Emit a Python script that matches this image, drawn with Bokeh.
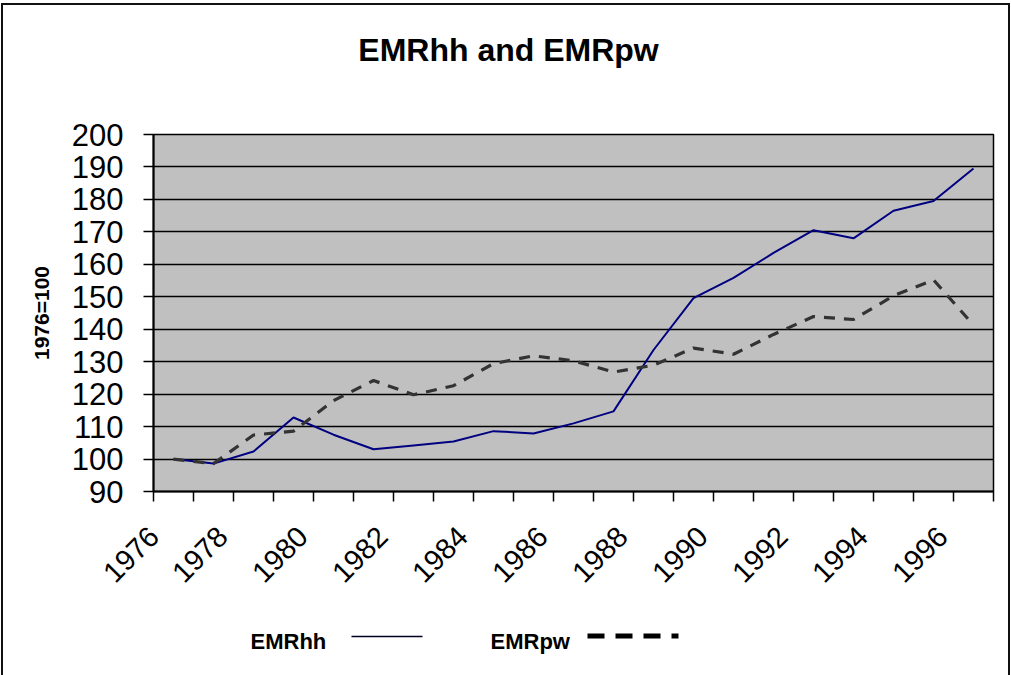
from bokeh.plotting import figure
from bokeh.layouts import column
from bokeh.models import Range1d, FixedTicker, InlineStyleSheet
from bokeh.core.properties import value
from bokeh.embed import file_html
from bokeh.resources import INLINE

years = list(range(1976, 1997))
emrhh = [100, 98.6, 102.3, 112.8, 107.5, 103.0, 104.2, 105.4, 108.6, 107.9, 111.0,
         114.7, 133.6, 149.6, 155.8, 163.5, 170.5, 168.0, 176.5, 179.5, 189.5]
emrpw = [100, 98.6, 107.4, 108.6, 118.0, 124.2, 119.8, 122.6, 129.4, 131.8, 130.3,
         126.8, 128.9, 134.2, 132.3, 138.4, 143.9, 143.0, 150.3, 155.2, 141.3]
y_ticks = list(range(90, 201, 10))
x_label_years = years[::2]
series_names = ["EMRhh", "EMRpw"]
chart_title = "EMRhh and EMRpw"

FONT = "Liberation Sans"
W = 1011
TOP_H, MAIN_H, LEG_H = 110, 490, 75


def border_css(top, height):
    return InlineStyleSheet(css=f"""
:host {{ position: relative; overflow: hidden; }}
:host::after {{ content: ""; position: absolute; left: 1px; top: {top}px; width: 1009px; height: {height}px;
  border: 2px solid #111; box-sizing: border-box; pointer-events: none; z-index: 100; }}
""")


def strip(height, y0):
    f = figure(width=W, height=height, output_backend="svg", toolbar_location=None,
               x_range=Range1d(0, W), y_range=Range1d(y0 + height, y0),
               x_axis_location=None, y_axis_location=None,
               min_border_left=0, min_border_right=0, min_border_top=0, min_border_bottom=0)
    f.frame_align = False
    f.grid.visible = False
    f.outline_line_color = None
    f.background_fill_color = "white"
    f.border_fill_color = "white"
    return f


# ---------------- title strip ----------------
top = strip(TOP_H, 0)
top.stylesheets = [border_css(3, 800)]
top.text(x=[508], y=[49], text=[chart_title], text_font=value(FONT), text_font_style="bold",
         text_font_size="32px", text_align="center", text_baseline="middle", text_color="black")

# ---------------- main chart ----------------
p = figure(width=W, height=MAIN_H, output_backend="svg", toolbar_location=None,
           x_range=Range1d(1975.5, 1996.5), y_range=Range1d(90, 200),
           min_border_left=153, min_border_right=18, min_border_top=24, min_border_bottom=109)
p.frame_align = False
p.background_fill_color = "#C0C0C0"
p.border_fill_color = "white"
p.outline_line_color = "black"
p.outline_line_width = 1.5
p.stylesheets = [border_css(-20, 800)]

# category axis: boundaries as (minor) tick marks, labels every second year
label_pos = [max(y - 0.77, 1975.51) for y in x_label_years]
p.xaxis.ticker = FixedTicker(ticks=label_pos, minor_ticks=[y - 0.5 for y in years] + [years[-1] + 0.5])
p.xaxis.major_label_overrides = {pos: str(y) for pos, y in zip(label_pos, x_label_years)}
p.xaxis.major_tick_out = 0
p.xaxis.major_tick_in = 0
p.xaxis.minor_tick_out = 10
p.xaxis.minor_tick_in = 0
p.xaxis.minor_tick_line_color = "black"
p.xaxis.minor_tick_line_width = 1.5
p.xaxis.major_label_orientation = 0.785398
p.xaxis.major_label_text_font = FONT
p.xaxis.major_label_text_font_size = "29px"
p.xaxis.major_label_text_color = "black"
p.xaxis.major_label_standoff = 30
p.xaxis.axis_line_color = "black"
p.xaxis.axis_line_width = 2

p.yaxis.ticker = FixedTicker(ticks=y_ticks)
p.yaxis.minor_tick_line_color = None
p.yaxis.major_tick_out = 10
p.yaxis.major_tick_in = 0
p.yaxis.major_tick_line_color = "black"
p.yaxis.major_tick_line_width = 1.5
p.yaxis.major_label_text_font = FONT
p.yaxis.major_label_text_font_size = "31px"
p.yaxis.major_label_text_color = "black"
p.yaxis.major_label_standoff = 20
p.yaxis.axis_line_color = "black"
p.yaxis.axis_line_width = 2
p.yaxis.axis_label = "1976=100"
p.yaxis.axis_label_text_font = FONT
p.yaxis.axis_label_text_font_style = "bold"
p.yaxis.axis_label_text_font_size = "21px"
p.yaxis.axis_label_text_color = "black"
p.yaxis.axis_label_standoff = 16

p.xgrid.grid_line_color = None
p.ygrid.ticker = FixedTicker(ticks=y_ticks)
p.ygrid.grid_line_color = "black"
p.ygrid.grid_line_width = 1.3

p.line(years, emrhh, line_color="#000080", line_width=2)
p.line(years, emrpw, line_color="#333333", line_width=3.2, line_dash="11 9")

# ---------------- legend strip (page-pixel coordinates) ----------------
leg = strip(LEG_H, TOP_H + MAIN_H)
leg.stylesheets = [border_css(-20, 200)]
leg.text(x=[250, 490], y=[641, 641], text=series_names,
         text_font=value(FONT), text_font_style="bold", text_font_size="22px",
         text_align="left", text_baseline="middle", text_color="black")
leg.line(x=[351, 422], y=[636, 636], line_color="#000020", line_width=1.5)
leg.line(x=[587, 678], y=[635.5, 635.5], line_color="black", line_width=5, line_dash="17 11")

layout = column(top, p, leg, spacing=0)
open("out.html", "w").write(file_html(layout, INLINE))
